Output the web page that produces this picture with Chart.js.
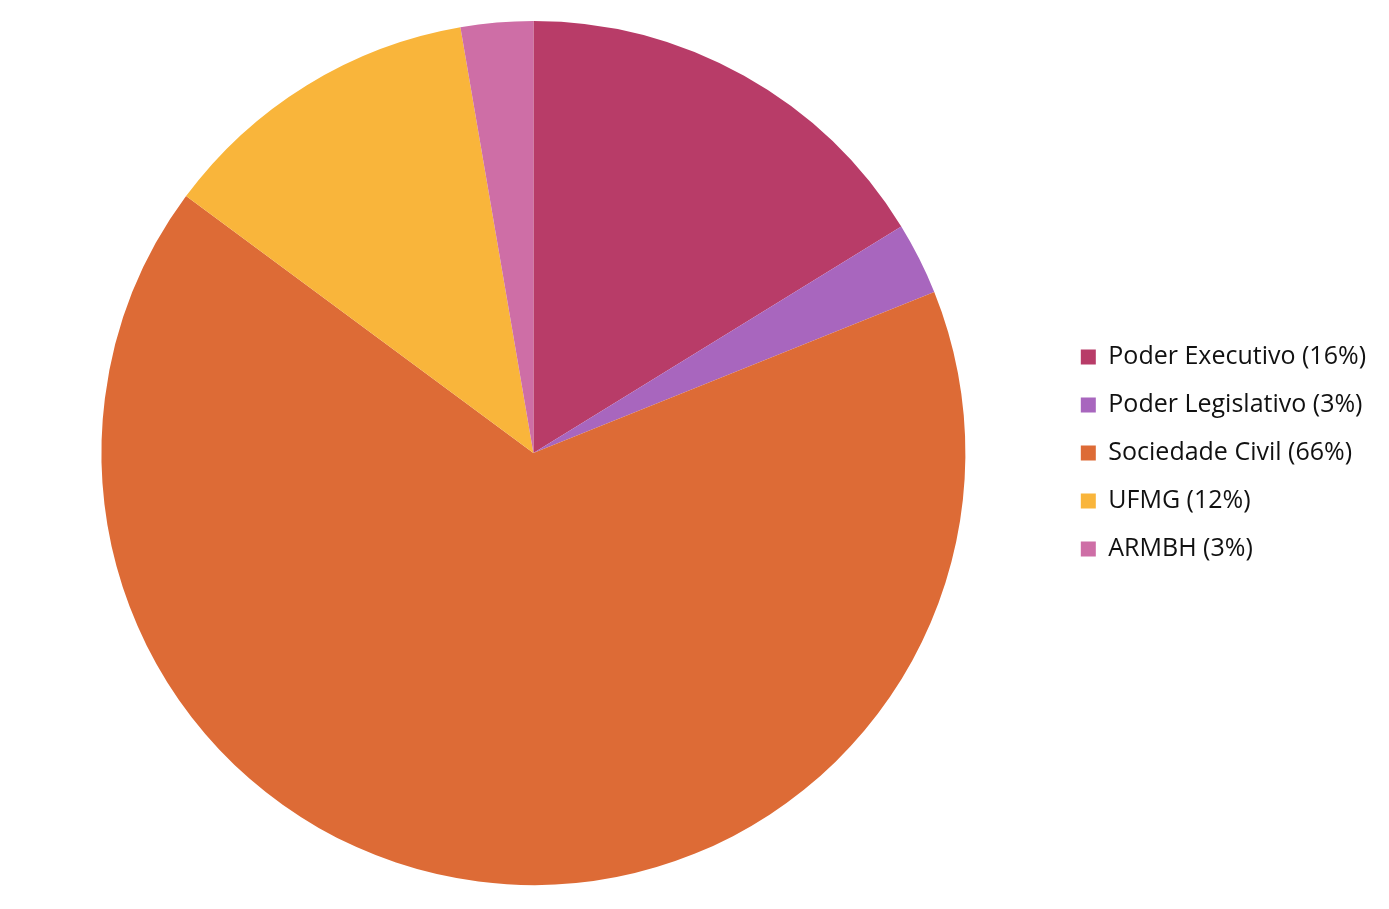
<!DOCTYPE html>
<html>
<head>
<meta charset="utf-8">
<script src="https://cdn.jsdelivr.net/npm/chart.js@4.4.1/dist/chart.umd.min.js"></script>
<style>
  html, body { margin: 0; padding: 0; background: #ffffff; }
  #wrap { width: 1389px; height: 909px; position: relative; }
</style>
</head>
<body>
<div id="wrap"><canvas id="c" width="1389" height="909"></canvas></div>
<script>
const categories = ["Poder Executivo (16%)", "Poder Legislativo (3%)", "Sociedade Civil (66%)", "UFMG (12%)", "ARMBH (3%)"];
const values = [12, 2, 49, 9, 2];
const colors = ["#B83C68", "#A866BE", "#DD6B36", "#F9B53B", "#CE6EA6"];

new Chart(document.getElementById('c'), {
  type: 'pie',
  data: {
    labels: categories,
    datasets: [{
      data: values,
      backgroundColor: colors,
      borderWidth: 0
    }]
  },
  options: {
    responsive: false,
    animation: false,
    layout: { padding: { left: 9, right: 13, top: 21, bottom: 24 } },
    plugins: {
      tooltip: { enabled: false },
      legend: {
        position: 'right',
        labels: {
          boxWidth: 15,
          boxHeight: 15,
          padding: 23,
          color: '#111111',
          font: { family: 'Open Sans', size: 25, lineHeight: 1.08 }
        }
      }
    }
  }
});
</script>
</body>
</html>
